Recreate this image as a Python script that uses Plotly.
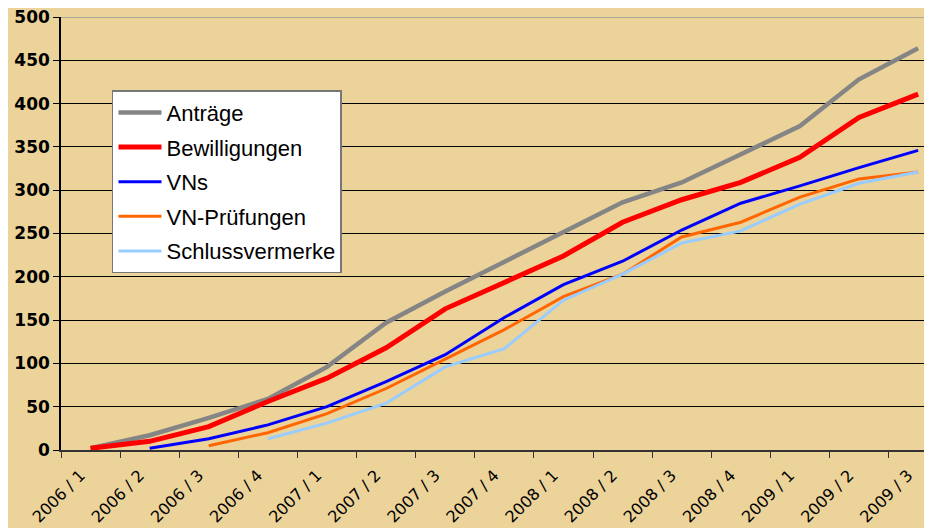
import plotly.graph_objects as go

categories = ["2006 / 1", "2006 / 2", "2006 / 3", "2006 / 4", "2007 / 1", "2007 / 2", "2007 / 3", "2007 / 4",
              "2008 / 1", "2008 / 2", "2008 / 3", "2008 / 4", "2009 / 1", "2009 / 2", "2009 / 3"]

antraege = [2, 17, 37, 59, 96, 147, 183, 217, 252, 286, 309, 341, 374, 428, 464]
bewilligungen = [2, 10, 27, 56, 83, 118, 163, 194, 224, 263, 289, 309, 338, 384, 411]
vns = [None, 2, 13, 29, 50, 79, 110, 153, 191, 218, 254, 285, 305, 326, 346]
vn_pruefungen = [None, None, 5, 20, 42, 71, 105, 139, 177, 203, 246, 263, 292, 313, 321]
schlussvermerke = [None, None, None, 13, 31, 54, 96, 117, 173, 203, 239, 253, 284, 308, 321]

series = [
    ("Anträge", antraege, "#858585", 4.5),
    ("Bewilligungen", bewilligungen, "#FF0000", 5),
    ("VNs", vns, "#0000FF", 3),
    ("VN-Prüfungen", vn_pruefungen, "#FF6600", 3),
    ("Schlussvermerke", schlussvermerke, "#99CCFF", 3),
]

bg = "#ECD39A"
fig = go.Figure()
for i, (name, vals, color, w) in enumerate(series):
    fig.add_trace(go.Scatter(
        x=categories, y=vals, name=name, mode="lines",
        line=dict(color=color, width=w), legendgroup=f"g{i}",
    ))

fig.update_layout(
    width=932, height=528,
    paper_bgcolor=bg, plot_bgcolor=bg,
    margin=dict(l=53, r=0, t=9, b=86),
    showlegend=True,
    legend=dict(
        x=0.058, y=0.831, xanchor="left", yanchor="top",
        bgcolor="white", bordercolor="#777777", borderwidth=1.5,
        font=dict(family="Liberation Sans, Arial", size=22, color="black"),
        traceorder="grouped", tracegroupgap=3,
        itemwidth=43,
    ),
    xaxis=dict(
        type="category", range=[-0.5, 14.37], automargin=False,
        showgrid=False, showline=True, linecolor="#333333", linewidth=1.5,
        ticks="outside", tickson="boundaries", ticklen=6, tickcolor="#333333",
        tickangle=-45, ticklabelshift=-10, ticklabelstandoff=8,
        tickfont=dict(family="DejaVu Sans", size=16, color="black"),
    ),
    yaxis=dict(
        range=[0, 500], dtick=50, showgrid=True, gridcolor="black", gridwidth=1,
        showline=True, linecolor="black", linewidth=1.5, automargin=False,
        ticks="outside", ticklen=6, tickcolor="black", ticklabeloverflow="allow",
        tickfont=dict(family="DejaVu Sans", size=17, color="black", weight="bold"),
        zeroline=False,
    ),
)
fig.add_shape(type="line", xref="paper", yref="y", x0=0, x1=1, y0=500, y1=500,
              line=dict(color="#999999", width=1.5))

fig.write_html("out.html")
